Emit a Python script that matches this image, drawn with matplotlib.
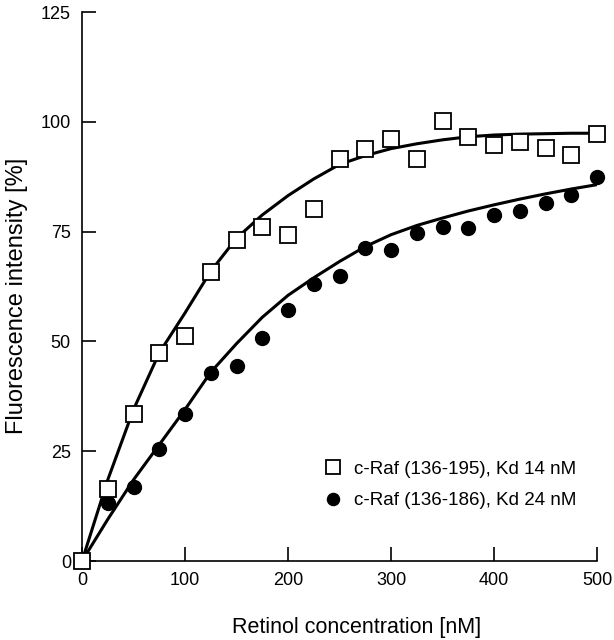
import matplotlib as mpl
mpl.use('agg')
import matplotlib.pyplot as plt

plt.rcParams['font.family'] = ['Liberation Sans', 'DejaVu Sans']

# Retinol concentration [nM]
conc = [0, 25, 50, 75, 100, 125, 150, 175, 200, 225, 250,
        275, 300, 325, 350, 375, 400, 425, 450, 475, 500]

# c-Raf (136-195) measured points (squares)
raf195 = [0, 16.4, 33.5, 47.4, 51.3, 65.8, 73.0, 76.0, 74.3, 80.2, 91.6,
          93.8, 96.1, 91.6, 100.2, 96.6, 94.8, 95.4, 94.1, 92.5, 97.3]
# c-Raf (136-186) measured points (circles)
raf186 = [0, 13.2, 16.9, 25.5, 33.5, 42.8, 44.4, 50.8, 57.2, 63.1, 64.9,
          71.3, 70.8, 74.7, 76.1, 75.9, 78.8, 79.7, 81.5, 83.4, 87.5]

# fitted curves
fit195 = [0, 18.5, 34.5, 47.4, 56.5, 66.0, 73.5, 78.8, 83.2, 87.0, 90.3,
          92.3, 93.9, 95.0, 95.9, 96.6, 97.0, 97.2, 97.3, 97.4, 97.4]
fit186 = [0, 9.5, 18.5, 26.5, 34.5, 43.0, 49.5, 55.5, 60.5, 64.5, 68.2,
          71.6, 74.3, 76.4, 78.1, 79.7, 81.1, 82.4, 83.6, 84.7, 85.7]

labels = ['c-Raf (136-195), Kd 14 nM', 'c-Raf (136-186), Kd 24 nM']

fig = plt.figure(figsize=(6.14, 6.40), dpi=100)
ax = fig.add_axes([0.1336, 0.1234, 0.8388, 0.8578])

ax.plot(conc, fit195, color='black', lw=2.2, zorder=2)
ax.plot(conc, fit186, color='black', lw=2.2, zorder=2)
ax.plot(conc, raf186, 'o', color='black', ms=10, ls='none', clip_on=False,
        zorder=3, label=labels[1])
ax.plot(conc, raf195, 's', mfc='white', mec='black', mew=1.3, ms=11,
        ls='none', clip_on=False, zorder=4, label=labels[0])

ax.set_xlim(0, 500)
ax.set_ylim(0, 125)
ax.set_xticks([0, 100, 200, 300, 400, 500])
ax.set_yticks([0, 25, 50, 75, 100, 125])

for s in ['top', 'right']:
    ax.spines[s].set_visible(False)
for s in ['left', 'bottom']:
    ax.spines[s].set_linewidth(1.2)

ax.tick_params(axis='both', direction='in', length=10, width=1.2,
               labelsize=13)
ax.tick_params(axis='y', pad=8)
ax.tick_params(axis='x', pad=8)

fig.text(357 / 614, 1 - 628 / 640, 'Retinol concentration [nM]',
         ha='center', va='center', fontsize=15.5)
fig.text(17 / 614, 1 - 296 / 640, 'Fluorescence intensity [%]',
         ha='center', va='center', rotation=90, fontsize=17)

h, l = ax.get_legend_handles_labels()
ax.legend(h[::-1], l[::-1], loc='center left',
          bbox_to_anchor=(324 / 614, 1 - 485 / 640),
          bbox_transform=fig.transFigure, frameon=False, fontsize=13.5,
          handlelength=1.0, handletextpad=0.6, labelspacing=0.75,
          borderpad=0, borderaxespad=0, numpoints=1, markerscale=0.87)

fig.savefig('out.png', dpi=100)
